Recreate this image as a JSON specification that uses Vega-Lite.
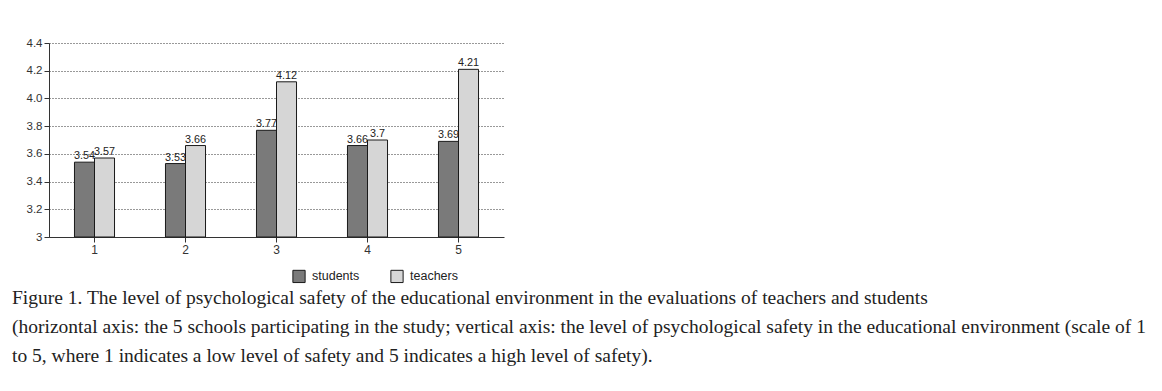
{
  "$schema": "https://vega.github.io/schema/vega-lite/v6.json",
  "width": 455,
  "height": 194,
  "padding": {"left": 12, "top": 37, "right": 5, "bottom": 5},
  "background": "white",
  "data": {
    "values": [
      {"school": "1", "group": "students", "value": 3.54},
      {"school": "1", "group": "teachers", "value": 3.57},
      {"school": "2", "group": "students", "value": 3.53},
      {"school": "2", "group": "teachers", "value": 3.66},
      {"school": "3", "group": "students", "value": 3.77},
      {"school": "3", "group": "teachers", "value": 4.12},
      {"school": "4", "group": "students", "value": 3.66},
      {"school": "4", "group": "teachers", "value": 3.7},
      {"school": "5", "group": "students", "value": 3.69},
      {"school": "5", "group": "teachers", "value": 4.21}
    ]
  },
  "title": {
    "text": [
      "Figure 1. The level of psychological safety of the educational environment in the evaluations of teachers and students",
      "(horizontal axis: the 5 schools participating in the study; vertical axis: the level of psychological safety in the educational environment (scale of 1",
      "to 5, where 1 indicates a low level of safety and 5 indicates a high level of safety)."
    ],
    "orient": "bottom",
    "anchor": "start",
    "font": "Liberation Serif",
    "fontSize": 19.5,
    "fontWeight": "normal",
    "color": "#222222",
    "lineHeight": 29,
    "offset": 4,
    "dx": -14
  },
  "config": {
    "view": {"stroke": null},
    "axis": {
      "labelFont": "Liberation Sans",
      "labelFontSize": 11.5,
      "labelColor": "#333333",
      "domainColor": "#333333",
      "tickColor": "#333333",
      "title": null
    },
    "legend": {
      "labelFont": "Liberation Sans",
      "labelFontSize": 12.5,
      "labelColor": "#222222"
    }
  },
  "encoding": {
    "x": {
      "field": "school",
      "type": "nominal",
      "scale": {"paddingInner": 0.56, "paddingOuter": 0.28},
      "axis": {"labelAngle": 0, "tickSize": 5, "labelPadding": 2, "labelFontSize": 12}
    },
    "xOffset": {"field": "group", "type": "nominal", "scale": {"paddingInner": 0}},
    "y": {
      "field": "value",
      "type": "quantitative",
      "scale": {"domain": [3, 4.4], "nice": false, "zero": false},
      "axis": {
        "values": [3, 3.2, 3.4, 3.6, 3.8, 4.0, 4.2, 4.4],
        "labelExpr": "datum.value == 3 ? '3' : format(datum.value, '.1f')",
        "labelOverlap": false,
        "grid": true,
        "gridColor": "#333333",
        "gridDash": [1, 2],
        "gridWidth": 1,
        "tickSize": 5,
        "labelPadding": 2
      }
    }
  },
  "layer": [
    {
      "mark": {"type": "bar", "stroke": "#1a1a1a", "strokeWidth": 1},
      "encoding": {
        "y2": {"datum": 3},
        "fill": {
          "field": "group",
          "type": "nominal",
          "scale": {"domain": ["students", "teachers"], "range": ["#7a7a7a", "#d6d6d6"]},
          "legend": {
            "title": null,
            "orient": "none",
            "direction": "horizontal",
            "legendX": 243,
            "legendY": 226,
            "symbolType": "square",
            "symbolSize": 150,
            "symbolStrokeColor": "#1a1a1a",
            "symbolStrokeWidth": 1,
            "columnPadding": 28,
            "labelOffset": 6
          }
        }
      }
    },
    {
      "mark": {"type": "text", "baseline": "bottom", "dy": -1, "font": "Liberation Sans", "fontSize": 10.8, "color": "#222222"},
      "encoding": {
        "text": {"field": "value", "type": "quantitative"}
      }
    }
  ]
}
